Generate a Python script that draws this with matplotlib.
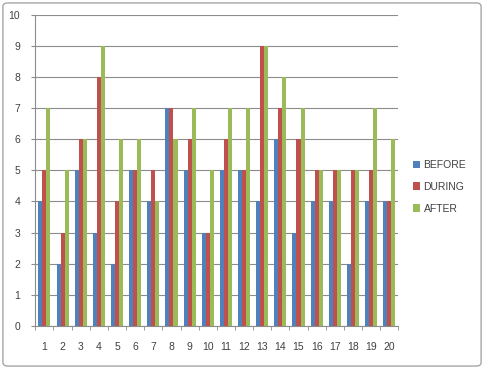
import matplotlib
matplotlib.use("Agg")
import matplotlib.pyplot as plt
from matplotlib.patches import FancyBboxPatch
import numpy as np

# data
days = [str(i) for i in range(1, 21)]
before = [4, 2, 5, 3, 2, 5, 4, 7, 5, 3, 5, 5, 4, 6, 3, 4, 4, 2, 4, 4]
during = [5, 3, 6, 8, 4, 5, 5, 7, 6, 3, 6, 5, 9, 7, 6, 5, 5, 5, 5, 4]
after = [7, 5, 6, 9, 6, 6, 4, 6, 7, 5, 7, 7, 9, 8, 7, 5, 5, 5, 7, 6]
series_names = ["BEFORE", "DURING", "AFTER"]
colors = ["#4F81BD", "#C0504D", "#9BBB59"]

plt.rcParams['font.family'] = ['Liberation Sans', 'DejaVu Sans']

fig = plt.figure(figsize=(4.84, 3.69), dpi=100)
# outer chart border
fig.patches.append(FancyBboxPatch((0.006, 0.008), 0.988, 0.984,
                                  boxstyle="round,pad=0,rounding_size=0.01",
                                  transform=fig.transFigure, fill=False,
                                  edgecolor="#a6a6a6", linewidth=1.0))

ax = fig.add_axes([0.073, 0.117, 0.750, 0.843])
x = np.arange(len(days))
w = 1 / 4.5
for i, (vals, name, c) in enumerate(zip([before, during, after], series_names, colors)):
    ax.bar(x + (i - 1) * w, vals, width=w, color=c, label=name, zorder=3)

ax.set_xlim(-0.5, len(days) - 0.5)
ax.set_ylim(0, 10)
ax.set_yticks(range(0, 11))
ax.yaxis.grid(True, color="#8c8c8c", linewidth=0.8, zorder=0)
ax.set_xticks(x)
ax.set_xticklabels(days)
ax.set_xticks(np.arange(-0.5, len(days)), minor=True)
ax.tick_params(axis="x", which="major", length=0, pad=12, labelsize=7.5, colors="#404040")
ax.tick_params(axis="x", which="minor", length=3, color="#8c8c8c", direction="out")
ax.tick_params(axis="y", length=3, color="#8c8c8c", labelsize=7.5, colors="#404040", pad=8)
for s in ["top", "right"]:
    ax.spines[s].set_visible(False)
for s in ["left", "bottom"]:
    ax.spines[s].set_color("#8c8c8c")
    ax.spines[s].set_linewidth(0.8)

ax.legend(loc="center left", bbox_to_anchor=(1.015, 0.447), frameon=False,
          fontsize=7.5, handlelength=0.7, handleheight=0.7, handletextpad=0.3,
          labelspacing=1.15, labelcolor="#404040")

fig.savefig("out.png", dpi=100)
